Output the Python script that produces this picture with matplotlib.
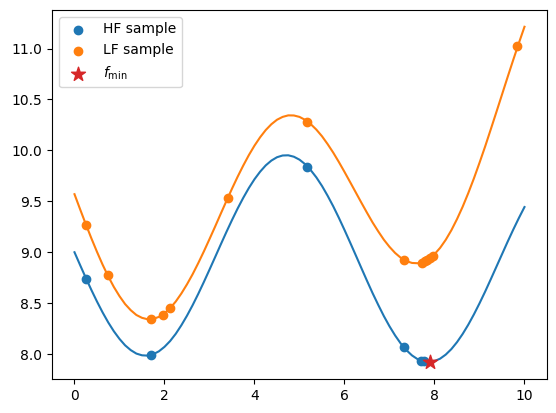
import numpy as np
import matplotlib
matplotlib.use("Agg")
import matplotlib.pyplot as plt

x_grid = [0.0, 0.125, 0.25, 0.375, 0.5, 0.625, 0.75, 0.875, 1.0, 1.125, 1.25, 1.375,
          1.5, 1.625, 1.75, 1.875, 2.0, 2.125, 2.25, 2.375, 2.5, 2.625, 2.75, 2.875,
          3.0, 3.125, 3.25, 3.375, 3.5, 3.625, 3.75, 3.875, 4.0, 4.125, 4.25, 4.375,
          4.5, 4.625, 4.75, 4.875, 5.0, 5.125, 5.25, 5.375, 5.5, 5.625, 5.75, 5.875,
          6.0, 6.125, 6.25, 6.375, 6.5, 6.625, 6.75, 6.875, 7.0, 7.125, 7.25, 7.375,
          7.5, 7.625, 7.75, 7.875, 8.0, 8.125, 8.25, 8.375, 8.5, 8.625, 8.75, 8.875,
          9.0, 9.125, 9.25, 9.375, 9.5, 9.625, 9.75, 9.875, 10.0]
hf_curve = [9.000, 8.874, 8.750, 8.630, 8.516, 8.409, 8.311, 8.224, 8.149, 8.086, 8.039,
            8.005, 7.988, 7.985, 7.999, 8.027, 8.071, 8.128, 8.199, 8.283, 8.377, 8.480,
            8.591, 8.708, 8.829, 8.952, 9.076, 9.198, 9.316, 9.429, 9.534, 9.631, 9.717,
            9.791, 9.853, 9.900, 9.933, 9.950, 9.952, 9.938, 9.909, 9.865, 9.806, 9.735,
            9.651, 9.555, 9.451, 9.338, 9.219, 9.096, 8.971, 8.845, 8.720, 8.598, 8.483,
            8.373, 8.273, 8.183, 8.104, 8.039, 7.987, 7.950, 7.928, 7.921, 7.931, 7.955,
            7.995, 8.049, 8.117, 8.197, 8.288, 8.389, 8.498, 8.613, 8.734, 8.857, 8.980,
            9.103, 9.222, 9.336, 9.444]
lf_curve = [9.570, 9.422, 9.277, 9.137, 9.004, 8.878, 8.763, 8.659, 8.569, 8.491, 8.431,
            8.384, 8.356, 8.342, 8.346, 8.365, 8.401, 8.451, 8.516, 8.595, 8.685, 8.784,
            8.893, 9.008, 9.129, 9.252, 9.378, 9.502, 9.624, 9.741, 9.851, 9.954, 10.047,
            10.129, 10.200, 10.257, 10.301, 10.329, 10.344, 10.343, 10.329, 10.300, 10.258,
            10.204, 10.139, 10.062, 9.978, 9.886, 9.789, 9.689, 9.588, 9.487, 9.388, 9.292,
            9.205, 9.123, 9.053, 8.993, 8.946, 8.913, 8.895, 8.892, 8.905, 8.934, 8.981,
            9.043, 9.122, 9.216, 9.325, 9.446, 9.580, 9.724, 9.878, 10.038, 10.206, 10.376,
            10.548, 10.720, 10.889, 11.054, 11.214]

hf_x = [0.25, 1.69, 5.17, 7.32, 7.70, 7.76]
hf_y = [8.74, 7.99, 9.84, 8.07, 7.935, 7.93]
lf_x = [0.25, 0.74, 1.69, 1.96, 2.13, 3.42, 5.17, 7.32, 7.72, 7.78, 7.84, 7.90, 7.96, 9.84]
lf_y = [9.27, 8.78, 8.34, 8.38, 8.45, 9.53, 10.28, 8.92, 8.895, 8.91, 8.925, 8.94, 8.965, 11.03]
fmin_x = [7.89]
fmin_y = [7.92]

fig = plt.figure(figsize=(5.56, 4.13), dpi=100)
ax = fig.add_axes([0.0935, 0.0823, 0.8903, 0.8935])
ax.plot(x_grid, hf_curve, color="C0")
ax.plot(x_grid, lf_curve, color="C1")
ax.scatter(hf_x, hf_y, color="C0", label="HF sample", zorder=3)
ax.scatter(lf_x, lf_y, color="C1", label="LF sample", zorder=3)
ax.scatter(fmin_x, fmin_y, color="C3", marker="*", s=110, label=r"$f_{\min}$", zorder=4)
ax.legend(loc="upper left")
fig.savefig("out.png", dpi=100)
